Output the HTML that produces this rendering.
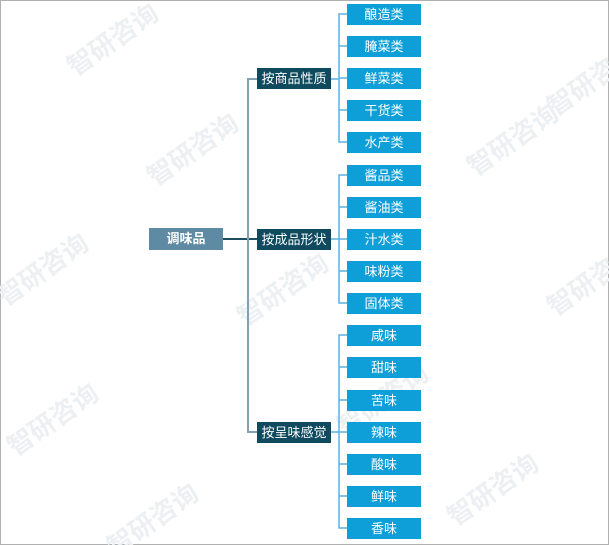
<!DOCTYPE html>
<html><head><meta charset="utf-8"><style>
html,body{margin:0;width:609px;height:545px;background:#fff;position:relative;overflow:hidden;font-family:"Liberation Sans","Noto Sans CJK SC",sans-serif;}
.frame{position:absolute;left:0;top:0;width:607px;height:543px;border:1px solid #b0b0b0;}
.b{position:absolute;color:#fff;font-size:13px;text-align:center;line-height:21px;height:21px;}
.leaf{left:347px;width:74px;background:#0e9fd8;}
.mid{left:257px;width:74px;background:#0f4a5f;}
.wm{position:absolute;color:#edf0f3;font-size:26px;font-weight:bold;transform:rotate(-35deg);white-space:nowrap;}
</style></head><body>
<div class="frame"></div>
<div class="wm" style="left:60px;top:20px">智研咨询</div>
<div class="wm" style="left:140px;top:130px">智研咨询</div>
<div class="wm" style="left:460px;top:120px">智研咨询</div>
<div class="wm" style="left:540px;top:60px">智研咨询</div>
<div class="wm" style="left:-10px;top:250px">智研咨询</div>
<div class="wm" style="left:230px;top:270px">智研咨询</div>
<div class="wm" style="left:540px;top:260px">智研咨询</div>
<div class="wm" style="left:0px;top:400px">智研咨询</div>
<div class="wm" style="left:330px;top:380px">智研咨询</div>
<div class="wm" style="left:440px;top:470px">智研咨询</div>
<div class="wm" style="left:100px;top:500px">智研咨询</div>
<svg style="position:absolute;left:0;top:0" width="609" height="545">
<line x1="223" y1="239" x2="257" y2="239" stroke="#1d4e62" stroke-width="2"/>
<path d="M257 79 H248 V432 H257" fill="none" stroke="#7fa3b5" stroke-width="2"/>
<g fill="none" stroke="#5cb2df" stroke-width="1.5">
<path d="M347 14 H339 V142 H347 M339 46 H347 M339 78 H347 M339 110 H347 M331 79 H339"/>
<path d="M347 175 H339 V303 H347 M339 207 H347 M339 239 H347 M339 271 H347 M331 239 H339"/>
<path d="M347 335 H339 V528 H347 M339 367 H347 M339 400 H347 M339 432 H347 M339 464 H347 M339 496 H347 M331 432 H339"/>
</g>
</svg>
<div class="b" style="left:149px;top:228px;width:74px;height:22px;background:#5f8aa3;font-weight:bold;">调味品</div>
<div class="b mid" style="top:68px">按商品性质</div>
<div class="b mid" style="top:229px">按成品形状</div>
<div class="b mid" style="top:422px">按呈味感觉</div>
<div class="b leaf" style="top:4px">酿造类</div>
<div class="b leaf" style="top:36px">腌菜类</div>
<div class="b leaf" style="top:68px">鲜菜类</div>
<div class="b leaf" style="top:100px">干货类</div>
<div class="b leaf" style="top:132px">水产类</div>
<div class="b leaf" style="top:165px">酱品类</div>
<div class="b leaf" style="top:197px">酱油类</div>
<div class="b leaf" style="top:229px">汁水类</div>
<div class="b leaf" style="top:261px">味粉类</div>
<div class="b leaf" style="top:293px">固体类</div>
<div class="b leaf" style="top:325px">咸味</div>
<div class="b leaf" style="top:357px">甜味</div>
<div class="b leaf" style="top:390px">苦味</div>
<div class="b leaf" style="top:422px">辣味</div>
<div class="b leaf" style="top:454px">酸味</div>
<div class="b leaf" style="top:486px">鲜味</div>
<div class="b leaf" style="top:518px">香味</div>
</body></html>
